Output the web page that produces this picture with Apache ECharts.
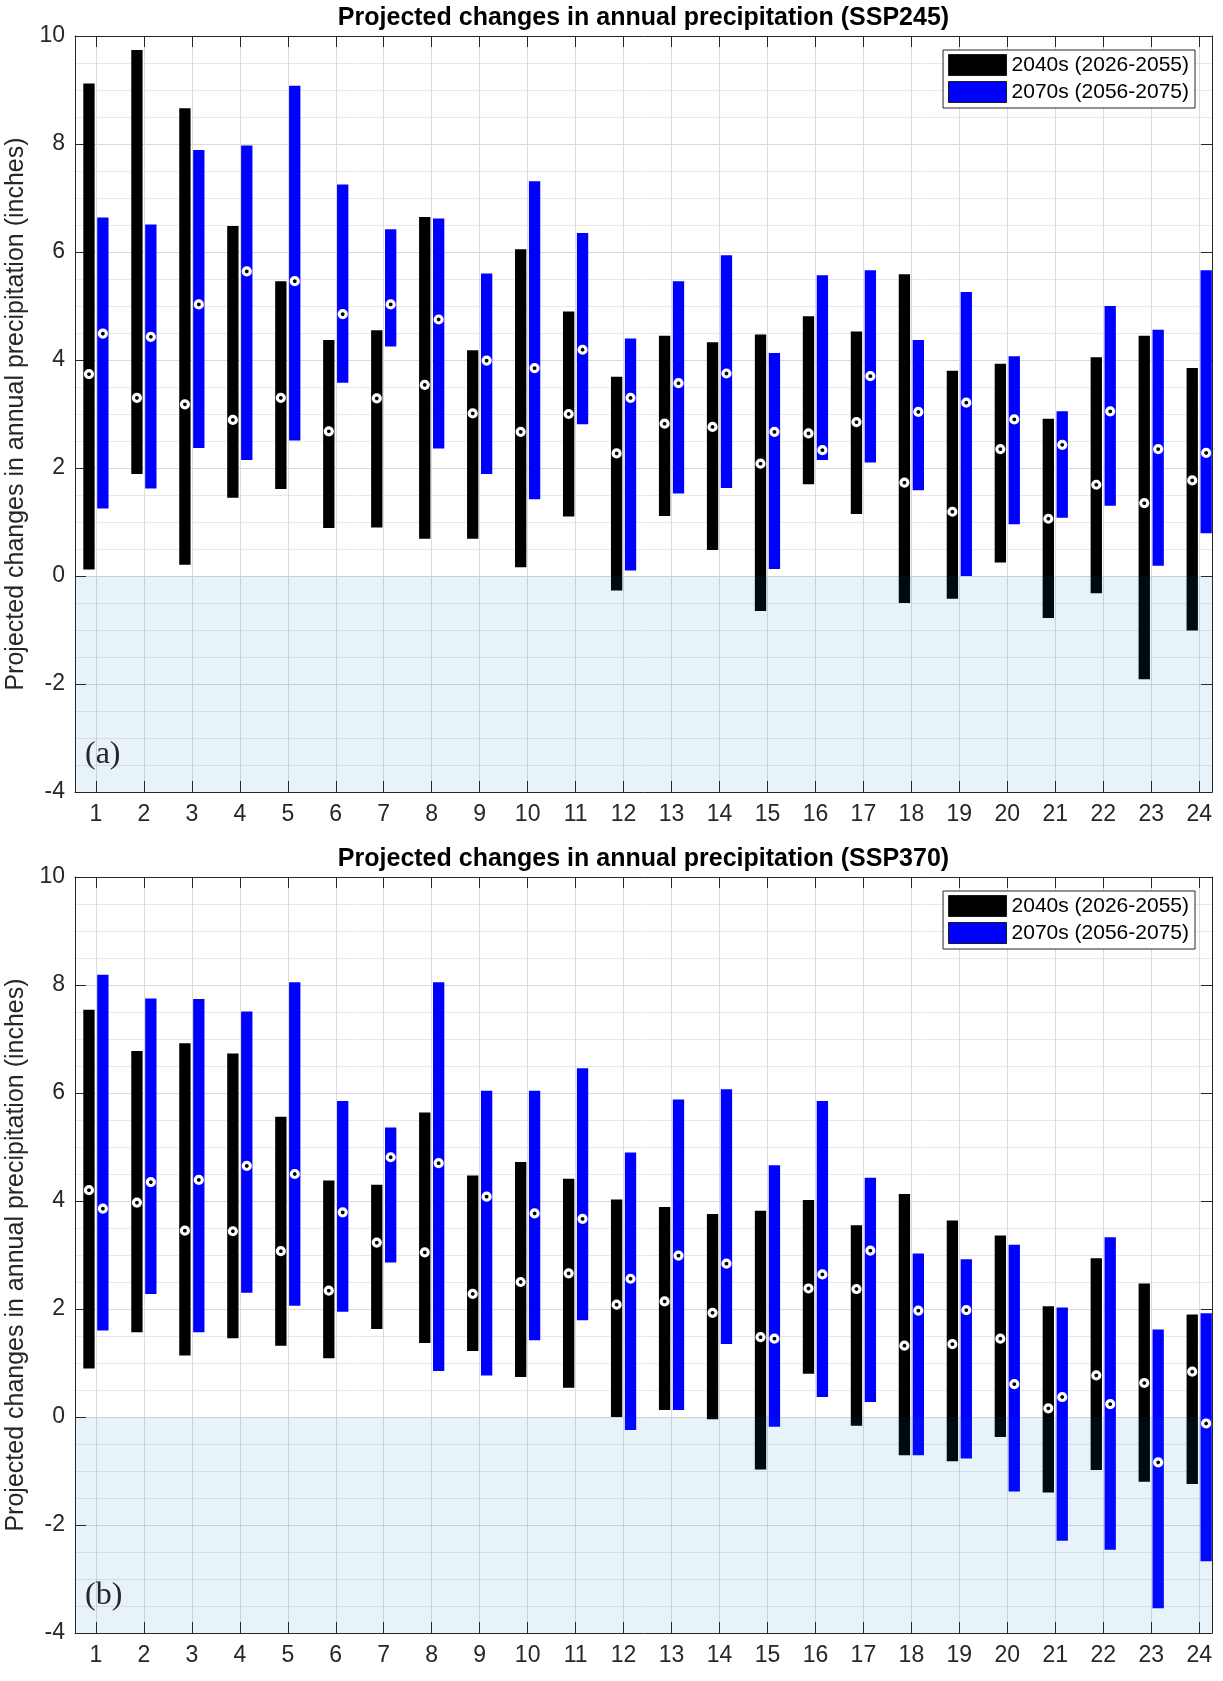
<!DOCTYPE html>
<html>
<head>
<meta charset="utf-8">
<title>Projected changes in annual precipitation</title>
<script src="https://cdn.jsdelivr.net/npm/echarts@6/dist/echarts.min.js"></script>
<style>
  html, body { margin: 0; padding: 0; background: #ffffff; }
  #chart { width: 1223px; height: 1681px; }
</style>
</head>
<body>
<div id="chart"></div>
<script>
// Station / region index along the x axis
const CATEGORIES = [1, 2, 3, 4, 5, 6, 7, 8, 9, 10, 11, 12, 13, 14, 15, 16, 17, 18, 19, 20, 21, 22, 23, 24];

// ---- SSP245: ranges (low/high) and medians, inches ----
const SSP245_2040S_HIGH = [9.12, 9.74, 8.66, 6.48, 5.46, 4.37, 4.55, 6.65, 4.18, 6.05, 4.90, 3.69, 4.45, 4.33, 4.47, 4.81, 4.53, 5.59, 3.80, 3.93, 2.91, 4.05, 4.45, 3.85];
const SSP245_2040S_LOW  = [0.12, 1.89, 0.21, 1.45, 1.61, 0.89, 0.90, 0.69, 0.69, 0.16, 1.10, -0.27, 1.11, 0.48, -0.65, 1.70, 1.15, -0.50, -0.42, 0.25, -0.78, -0.32, -1.91, -1.01];
const SSP245_2040S_MED  = [3.74, 3.30, 3.18, 2.89, 3.30, 2.68, 3.29, 3.54, 3.01, 2.67, 3.00, 2.27, 2.82, 2.76, 2.08, 2.64, 2.85, 1.73, 1.19, 2.35, 1.06, 1.69, 1.35, 1.77];
const SSP245_2070S_HIGH = [6.64, 6.51, 7.89, 7.97, 9.08, 7.25, 6.42, 6.62, 5.60, 7.31, 6.35, 4.40, 5.46, 5.94, 4.13, 5.57, 5.66, 4.37, 5.26, 4.07, 3.05, 5.00, 4.56, 5.66];
const SSP245_2070S_LOW  = [1.25, 1.62, 2.37, 2.15, 2.51, 3.58, 4.25, 2.36, 1.89, 1.42, 2.81, 0.10, 1.53, 1.63, 0.13, 2.15, 2.10, 1.59, 0.00, 0.96, 1.08, 1.30, 0.19, 0.79];
const SSP245_2070S_MED  = [4.49, 4.43, 5.03, 5.64, 5.46, 4.85, 5.03, 4.75, 3.99, 3.85, 4.19, 3.30, 3.57, 3.75, 2.67, 2.33, 3.70, 3.04, 3.21, 2.90, 2.43, 3.05, 2.35, 2.28];

// ---- SSP370: ranges (low/high) and medians, inches ----
const SSP370_2040S_HIGH = [7.54, 6.78, 6.92, 6.73, 5.56, 4.38, 4.30, 5.64, 4.47, 4.72, 4.41, 4.03, 3.89, 3.76, 3.82, 4.02, 3.55, 4.13, 3.64, 3.36, 2.05, 2.94, 2.47, 1.90];
const SSP370_2040S_LOW  = [0.90, 1.57, 1.14, 1.46, 1.32, 1.09, 1.63, 1.37, 1.22, 0.74, 0.54, 0.00, 0.13, -0.04, -0.97, 0.80, -0.16, -0.71, -0.82, -0.37, -1.40, -0.98, -1.20, -1.24];
const SSP370_2040S_MED  = [4.20, 3.97, 3.45, 3.44, 3.07, 2.34, 3.23, 3.05, 2.28, 2.50, 2.66, 2.08, 2.14, 1.93, 1.48, 2.38, 2.37, 1.32, 1.35, 1.45, 0.16, 0.77, 0.63, 0.84];
const SSP370_2070S_HIGH = [8.19, 7.75, 7.74, 7.51, 8.05, 5.85, 5.36, 8.05, 6.04, 6.04, 6.46, 4.90, 5.88, 6.07, 4.66, 5.85, 4.43, 3.03, 2.92, 3.19, 2.03, 3.33, 1.62, 1.92];
const SSP370_2070S_LOW  = [1.60, 2.28, 1.57, 2.30, 2.06, 1.95, 2.86, 0.85, 0.77, 1.42, 1.79, -0.24, 0.13, 1.35, -0.18, 0.37, 0.28, -0.71, -0.77, -1.38, -2.29, -2.46, -3.54, -2.67];
const SSP370_2070S_MED  = [3.86, 4.35, 4.39, 4.65, 4.50, 3.79, 4.81, 4.70, 4.08, 3.77, 3.67, 2.56, 2.99, 2.84, 1.45, 2.64, 3.08, 1.97, 1.98, 0.61, 0.37, 0.24, -0.84, -0.12];

// Labels
const TITLES = ['Projected changes in annual precipitation (SSP245)', 'Projected changes in annual precipitation (SSP370)'];
const PANEL_TAGS = ['(a)', '(b)'];
const PERIODS = ['2040s (2026-2055)', '2070s (2056-2075)'];
const Y_NAME = 'Projected changes in annual precipitation (inches)';

// Axis ranges
const X_RANGE = [0.564, 24.267];
const Y_RANGE = [-4, 10];
const Y_STEP = 2;
const NEGATIVE_BAND = [0, -4];   // shaded "drying" zone

// Layout / style
const FONT = 'Liberation Sans, Arial, Helvetica, sans-serif';
const AXIS_COLOR = '#262626';
const PERIOD_COLORS = ['#000000', '#0000ff'];
const BAR_OFFSET = 0.145;      // shift of each period's bar from the tick
const BAR_HALF = 0.118;        // half bar width in x units
const GRID_TOPS = [36, 877];
const GRID_HEIGHT = 756;
const GRID_LEFT = 75;
const GRID_RIGHT = 11;

const panels = [
  { low: [SSP245_2040S_LOW, SSP245_2070S_LOW], high: [SSP245_2040S_HIGH, SSP245_2070S_HIGH], med: [SSP245_2040S_MED, SSP245_2070S_MED] },
  { low: [SSP370_2040S_LOW, SSP370_2070S_LOW], high: [SSP370_2040S_HIGH, SSP370_2070S_HIGH], med: [SSP370_2040S_MED, SSP370_2070S_MED] }
];

const grid = [], xAxis = [], yAxis = [], series = [], title = [], legend = [];

panels.forEach((panel, p) => {
  grid.push({ left: GRID_LEFT, right: GRID_RIGHT, top: GRID_TOPS[p], height: GRID_HEIGHT,
              containLabel: false, outerBoundsMode: 'none' });

  // bottom x axis (labels + vertical grid), then mirrored top axis with ticks only
  xAxis.push({
    type: 'value', gridIndex: p, position: 'bottom', min: X_RANGE[0], max: X_RANGE[1],
    axisLine: { show: true, onZero: false, lineStyle: { color: AXIS_COLOR, width: 1 } },
    axisTick: { show: true, inside: true, length: 11, customValues: CATEGORIES, lineStyle: { color: AXIS_COLOR } },
    axisLabel: { show: true, customValues: CATEGORIES, margin: 11, fontSize: 23, color: AXIS_COLOR, fontFamily: FONT },
    splitLine: { show: true, lineStyle: { color: '#dadada', width: 1 } }
  });
  xAxis.push({
    type: 'value', gridIndex: p, position: 'top', min: X_RANGE[0], max: X_RANGE[1],
    axisLine: { show: true, onZero: false, lineStyle: { color: AXIS_COLOR, width: 1 } },
    axisTick: { show: true, inside: true, length: 11, customValues: CATEGORIES, lineStyle: { color: AXIS_COLOR } },
    axisLabel: { show: false },
    splitLine: { show: false }
  });

  yAxis.push({
    type: 'value', gridIndex: p, position: 'left', min: Y_RANGE[0], max: Y_RANGE[1], interval: Y_STEP,
    axisLine: { show: true, onZero: false, lineStyle: { color: AXIS_COLOR, width: 1 } },
    axisTick: { show: true, inside: true, length: 11, lineStyle: { color: AXIS_COLOR } },
    axisLabel: { margin: 10, fontSize: 23, color: AXIS_COLOR, fontFamily: FONT },
    splitLine: { show: true, lineStyle: { color: '#dadada', width: 1 } },
    minorTick: { show: false, splitNumber: 4 },
    minorSplitLine: { show: true, lineStyle: { color: '#e9e9e9', width: 1 } },
    name: Y_NAME, nameLocation: 'middle', nameGap: 42,
    nameTextStyle: { fontSize: 25, color: AXIS_COLOR, fontFamily: FONT }
  });
  yAxis.push({
    type: 'value', gridIndex: p, position: 'right', min: Y_RANGE[0], max: Y_RANGE[1], interval: Y_STEP,
    axisLine: { show: true, onZero: false, lineStyle: { color: AXIS_COLOR, width: 1 } },
    axisTick: { show: true, inside: true, length: 11, lineStyle: { color: AXIS_COLOR } },
    axisLabel: { show: false },
    splitLine: { show: false }
  });

  const xi = p * 2, yi = p * 2;

  // range bars for each period
  PERIODS.forEach((name, k) => {
    const offset = k === 0 ? -BAR_OFFSET : BAR_OFFSET;
    const color = PERIOD_COLORS[k];
    series.push({
      type: 'custom', name: name, xAxisIndex: xi, yAxisIndex: yi, z: 2,
      itemStyle: { color: color },
      encode: { x: 0, y: [1, 2] },
      data: CATEGORIES.map((c, i) => [c + offset, panel.low[k][i], panel.high[k][i]]),
      renderItem: function (params, api) {
        const x = api.value(0);
        const a = api.coord([x - BAR_HALF, api.value(2)]);
        const b = api.coord([x + BAR_HALF, api.value(1)]);
        const shape = echarts.graphic.clipRectByRect(
          { x: a[0], y: a[1], width: b[0] - a[0], height: b[1] - a[1] }, params.coordSys);
        return shape && { type: 'rect', shape: shape, style: { fill: color } };
      },
      silent: true
    });
  });

  // translucent band below zero, drawn over the bars
  series.push({
    type: 'custom', name: 'band' + p, xAxisIndex: xi, yAxisIndex: yi, z: 3, silent: true,
    encode: { x: 0, y: [1, 2] },
    data: [[CATEGORIES[0], NEGATIVE_BAND[0], NEGATIVE_BAND[1]]],
    renderItem: function (params, api) {
      const cs = params.coordSys;
      const top = api.coord([api.value(0), api.value(1)])[1];
      const bottom = api.coord([api.value(0), api.value(2)])[1];
      return { type: 'rect', shape: { x: cs.x, y: top, width: cs.width, height: bottom - top },
               style: { fill: 'rgba(0,114,189,0.09)' } };
    }
  });

  // median markers
  PERIODS.forEach((name, k) => {
    const offset = k === 0 ? -BAR_OFFSET : BAR_OFFSET;
    series.push({
      type: 'scatter', name: 'median ' + name + ' ' + p, xAxisIndex: xi, yAxisIndex: yi, z: 4, silent: true,
      symbol: 'circle', symbolSize: 7,
      itemStyle: { color: '#000000', borderColor: '#ffffff', borderWidth: 3.2, opacity: 1 },
      data: CATEGORIES.map((c, i) => [c + offset, panel.med[k][i]])
    });
  });

  title.push({
    text: TITLES[p], left: 643.5, top: GRID_TOPS[p] - 30, textAlign: 'center', padding: 0,
    textStyle: { fontSize: 25, fontWeight: 'bold', color: '#000000', fontFamily: FONT }
  });
  title.push({
    text: PANEL_TAGS[p], left: 85, top: GRID_TOPS[p] + 703, padding: 0,
    textStyle: { fontSize: 32, fontWeight: 'normal', color: '#262626', fontFamily: 'Liberation Serif, Times New Roman, serif' }
  });

  legend.push({
    orient: 'vertical', right: 28, top: GRID_TOPS[p] + 14,
    icon: 'rect', itemWidth: 58, itemHeight: 21, itemGap: 5,
    padding: [4, 6, 5, 5], borderColor: AXIS_COLOR, borderWidth: 1, backgroundColor: '#ffffff',
    selectedMode: false,
    textStyle: { fontSize: 21, color: '#000000', fontFamily: FONT },
    data: PERIODS.map((n, k) => ({ name: n, itemStyle: { color: PERIOD_COLORS[k], borderColor: '#1a1a1a', borderWidth: 1 } }))
  });
});

const chart = echarts.init(document.getElementById('chart'), null, { renderer: 'canvas' });
chart.setOption({
  animation: false,
  backgroundColor: '#ffffff',
  title: title,
  legend: legend,
  grid: grid,
  xAxis: xAxis,
  yAxis: yAxis,
  series: series
});
</script>
</body>
</html>
